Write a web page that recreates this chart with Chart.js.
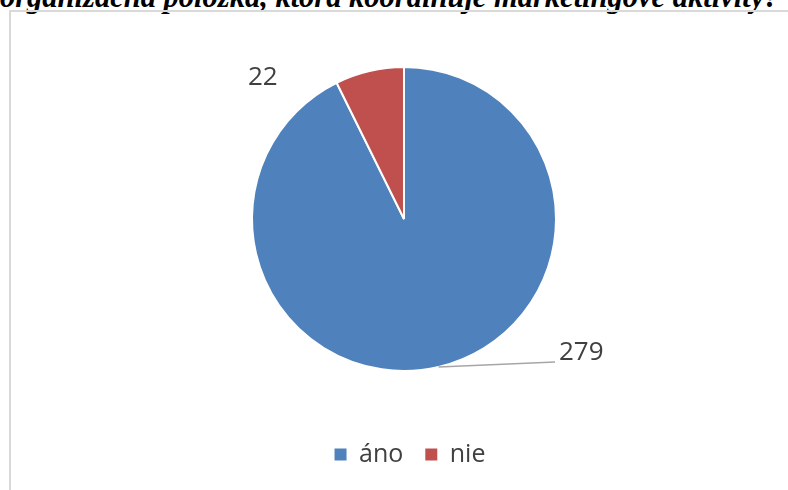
<!DOCTYPE html>
<html>
<head>
<meta charset="utf-8">
<script src="https://cdn.jsdelivr.net/npm/chart.js@4.4.1/dist/chart.umd.min.js"></script>
<style>
  html, body { margin:0; padding:0; background:#fff; }
  body { width:788px; height:490px; position:relative; overflow:hidden; }
  #title { position:absolute; left:0; top:-18px; width:800px; white-space:nowrap;
           font-family:"Times New Roman", serif; font-style:italic; font-weight:bold;
           font-size:30.5px; line-height:30px; color:#000; }
  #frame { position:absolute; left:9px; top:10px; width:800px; height:500px;
           border:2px solid #d9d9d9; box-sizing:border-box; }
  #wrap { position:absolute; left:0; top:0; width:788px; height:490px; }
</style>
</head>
<body>
<div id="title">organizačná položka, ktorá koordinuje marketingové aktivity?</div>
<div id="frame"></div>
<div id="wrap"><canvas id="pie"></canvas></div>
<script>
// data
const labels = ['áno', 'nie'];
const counts = [279, 22];
const colors = ['#4f81bd', '#c0504d'];

const textColor = '#404040';
const fontFamily = '"Open Sans", "Liberation Sans", sans-serif';

// data labels placed outside, like the original (offset from the pie centre)
const valueLabels = {
  id: 'valueLabels',
  afterLayout(chart) {
    // legend sits a little right of the pie centre in the original
    chart.legend.left += 6;
    chart.legend.right += 6;
  },
  afterDatasetsDraw(chart, args, opts) {
    const ctx = chart.ctx;
    const meta = chart.getDatasetMeta(0);
    ctx.save();
    ctx.font = '26px ' + fontFamily;
    ctx.fillStyle = textColor;
    ctx.textBaseline = 'middle';
    ctx.textAlign = 'left';
    meta.data.forEach((arc, i) => {
      const p = arc.getProps(['x', 'y', 'startAngle', 'endAngle', 'outerRadius'], true);
      const mid = (p.startAngle + p.endAngle) / 2;
      const off = opts.offsets[i];
      const tx = p.x + off[0], ty = p.y + off[1];
      if (off[2]) {
        // leader line from slice edge to the label
        const ex = p.x + Math.cos(mid) * p.outerRadius;
        const ey = p.y + Math.sin(mid) * p.outerRadius;
        ctx.strokeStyle = '#a6a6a6';
        ctx.lineWidth = 1.5;
        ctx.beginPath();
        ctx.moveTo(ex, ey);
        ctx.lineTo(tx - 4, ty + 9);
        ctx.stroke();
      }
      ctx.fillText(String(counts[i]), tx, ty);
    });
    ctx.restore();
  }
};

new Chart(document.getElementById('pie'), {
  type: 'pie',
  data: {
    labels: labels,
    datasets: [{
      data: counts,
      backgroundColor: colors,
      borderColor: '#ffffff',
      borderWidth: 2,
      radius: 152
    }]
  },
  options: {
    responsive: true,
    maintainAspectRatio: false,
    animation: false,
    layout: { padding: { left: 20, right: 0, top: 18, bottom: 13 } },
    plugins: {
      tooltip: { enabled: false },
      valueLabels: { offsets: [[155, 134, true], [-156, -141, false]] },
      legend: {
        position: 'bottom',
        labels: {
          color: textColor,
          font: { size: 25, family: fontFamily },
          boxWidth: 12,
          boxHeight: 12,
          padding: 22,
          // no white outline on the legend squares
          generateLabels(chart) {
            const items = Chart.overrides.pie.plugins.legend.labels.generateLabels(chart);
            items.forEach(it => { it.lineWidth = 0; });
            return items;
          }
        }
      }
    }
  },
  plugins: [valueLabels]
});
</script>
</body>
</html>
